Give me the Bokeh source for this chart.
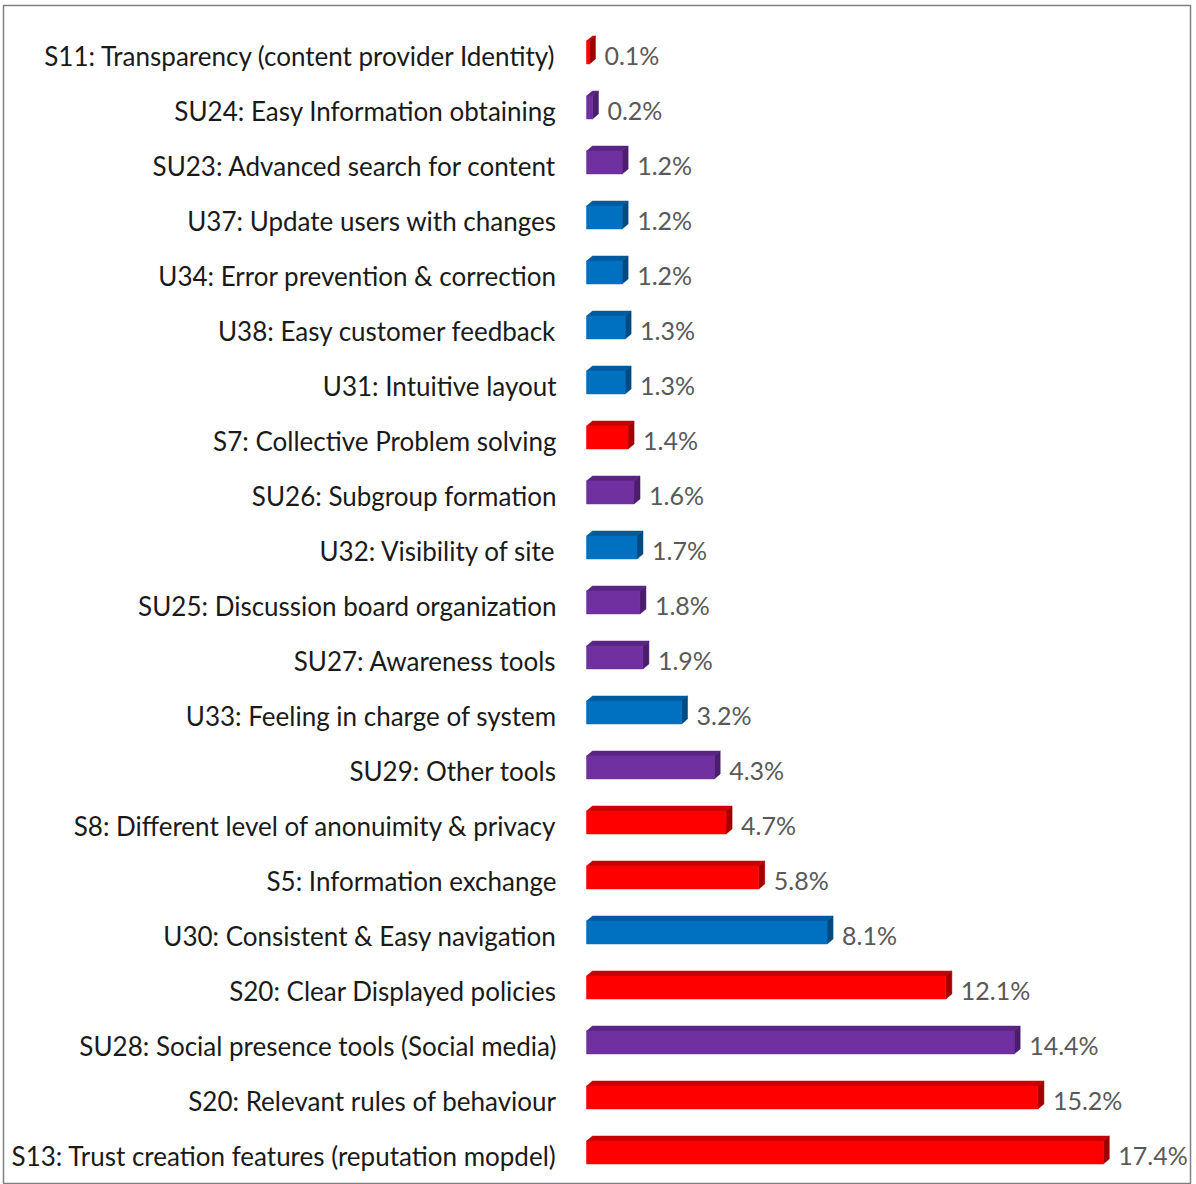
from bokeh.plotting import figure
from bokeh.models import Range1d, ColumnDataSource
from bokeh.core.properties import value
from bokeh.embed import file_html
from bokeh.resources import INLINE

categories = [
    "S11: Transparency (content provider Identity)",
    "SU24: Easy Information obtaining",
    "SU23: Advanced search for content",
    "U37: Update users with changes",
    "U34: Error prevention & correction",
    "U38: Easy customer feedback",
    "U31: Intuitive layout",
    "S7: Collective Problem solving",
    "SU26: Subgroup formation",
    "U32: Visibility of site",
    "SU25: Discussion board organization",
    "SU27: Awareness tools",
    "U33: Feeling in charge of system",
    "SU29: Other tools",
    "S8: Different level of anonuimity & privacy",
    "S5: Information exchange",
    "U30: Consistent & Easy navigation",
    "S20: Clear Displayed policies",
    "SU28: Social presence tools (Social media)",
    "S20: Relevant rules of behaviour",
    "S13: Trust creation features (reputation mopdel)",
]
values = [0.1, 0.2, 1.2, 1.2, 1.2, 1.3, 1.3, 1.4, 1.6, 1.7, 1.8, 1.9,
          3.2, 4.3, 4.7, 5.8, 8.1, 12.1, 14.4, 15.2, 17.4]
groups = ["S", "SU", "SU", "U", "U", "U", "U", "S", "SU", "U", "SU", "SU",
          "U", "SU", "S", "S", "U", "S", "SU", "S", "S"]

front_colors = {"S": "#FF0000", "SU": "#7030A0", "U": "#0070C0"}
top_colors = {"S": "#C80000", "SU": "#5A2484", "U": "#005A9E"}
side_colors = {"S": "#A00000", "SU": "#4A1D6E", "U": "#004A82"}

W, H = 1196, 1184
BL, BT, BR, BB = 3, 5, 6, 0
FW, FH = W - BL - BR, H - BT - BB
X0 = 583.0       # frame pixel of 0 %
SX = 29.7        # pixels per %
Y0 = 47.0        # frame pixel of first row centre
SY = 55.0        # pixels per row

p = figure(width=W, height=H, output_backend="svg", toolbar_location=None,
           x_range=Range1d(-X0 / SX, (FW - X0) / SX),
           y_range=Range1d((FH - Y0) / SY, -Y0 / SY),
           min_border_left=BL, min_border_top=BT,
           min_border_right=BR, min_border_bottom=BB)
p.axis.visible = False
p.grid.visible = False
p.outline_line_color = "#808080"
p.outline_line_width = 1.5
p.background_fill_color = "white"

ys = list(range(len(values)))
half = 11.5 / SY
dx = 6.0 / SX
dy = 5.0 / SY

src = ColumnDataSource(dict(
    y=ys, v=values, cat=categories,
    front=[front_colors[g] for g in groups],
    labels=[f"{v:.1f}%" for v in values],
))

top_xs, top_ys, side_xs, side_ys, tc, sc = [], [], [], [], [], []
for y, v, g in zip(ys, values, groups):
    t = y - half
    b = y + half
    top_xs.append([0, v, v + dx, dx])
    top_ys.append([t, t, t - dy, t - dy])
    side_xs.append([v, v + dx, v + dx, v])
    side_ys.append([t, t - dy, b - dy, b])
    tc.append(top_colors[g])
    sc.append(side_colors[g])

p.patches(top_xs, top_ys, fill_color=tc, line_color=tc, line_width=0.5)
p.patches(side_xs, side_ys, fill_color=sc, line_color=sc, line_width=0.5)
p.hbar(y="y", left=0, right="v", height=2 * half, fill_color="front",
       line_color="front", line_width=0.5, source=src)

p.text(x=0, y="y", text="cat", source=src, x_offset=-30, y_offset=3,
       text_align="right", text_baseline="middle",
       text_font=value("Lato"), text_font_size="26px", text_color="#1A1A1A")

p.text(x="v", y="y", text="labels", source=src, x_offset=15, y_offset=2,
       text_align="left", text_baseline="middle",
       text_font=value("Lato"), text_font_size="25px", text_color="#595959")

open("out.html", "w").write(file_html(p, INLINE))
